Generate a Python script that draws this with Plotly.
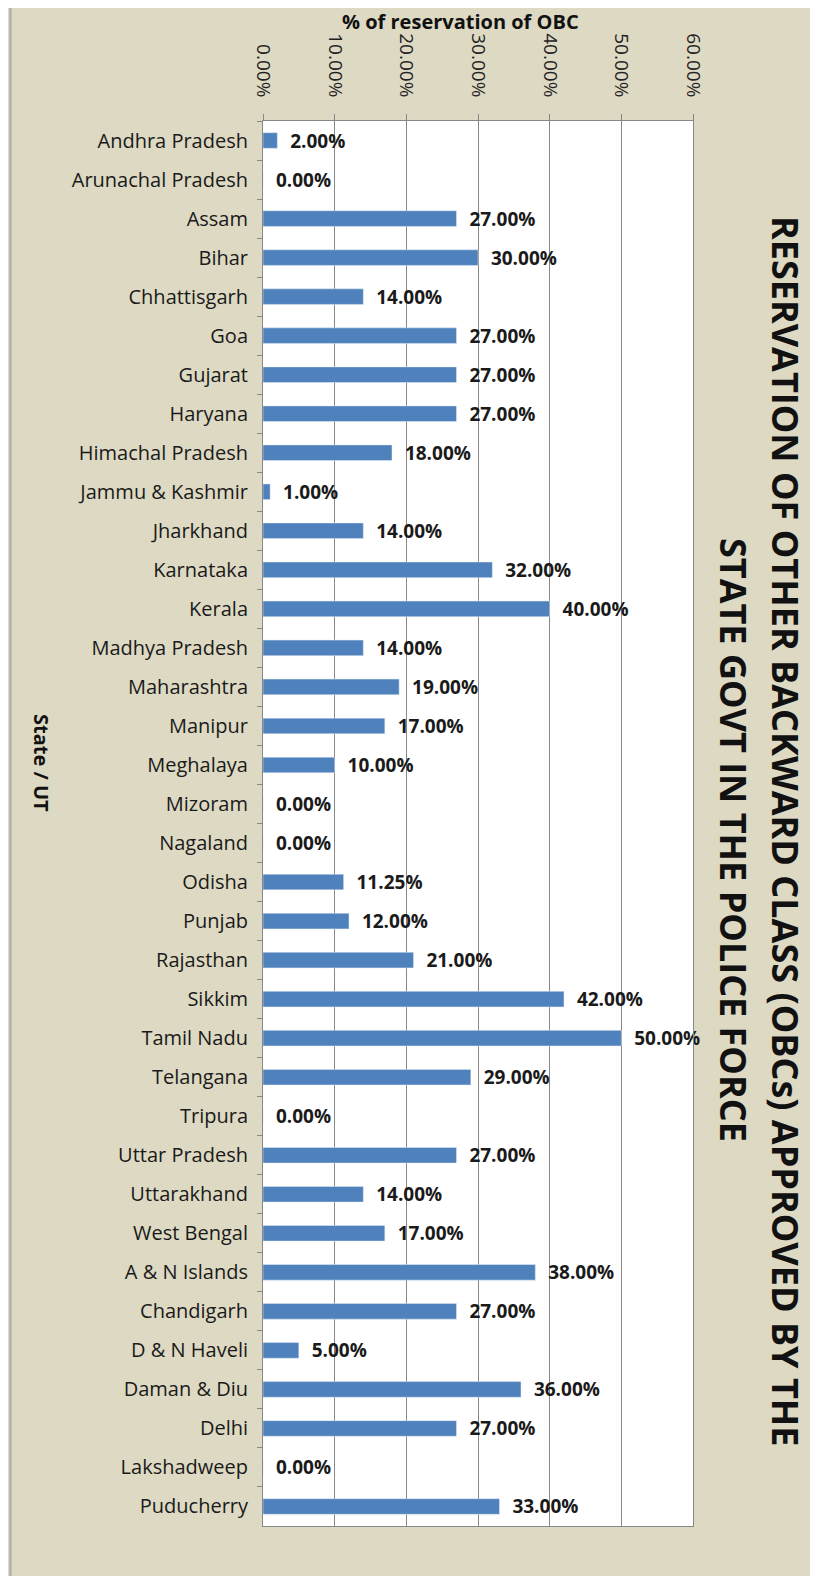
import plotly.graph_objects as go

states = ["Andhra Pradesh", "Arunachal Pradesh", "Assam", "Bihar", "Chhattisgarh", "Goa",
          "Gujarat", "Haryana", "Himachal Pradesh", "Jammu & Kashmir", "Jharkhand", "Karnataka",
          "Kerala", "Madhya Pradesh", "Maharashtra", "Manipur", "Meghalaya", "Mizoram",
          "Nagaland", "Odisha", "Punjab", "Rajasthan", "Sikkim", "Tamil Nadu", "Telangana",
          "Tripura", "Uttar Pradesh", "Uttarakhand", "West Bengal", "A & N Islands",
          "Chandigarh", "D & N Haveli", "Daman & Diu", "Delhi", "Lakshadweep", "Puducherry"]
obc_pct = [2.00, 0.00, 27.00, 30.00, 14.00, 27.00,
           27.00, 27.00, 18.00, 1.00, 14.00, 32.00,
           40.00, 14.00, 19.00, 17.00, 10.00, 0.00,
           0.00, 11.25, 12.00, 21.00, 42.00, 50.00, 29.00,
           0.00, 27.00, 14.00, 17.00, 38.00,
           27.00, 5.00, 36.00, 27.00, 0.00, 33.00]
x_ticks = [0, 10, 20, 30, 40, 50, 60]
x_tick_labels = ["0.00%", "10.00%", "20.00%", "30.00%", "40.00%", "50.00%", "60.00%"]

# the page adds an 8px body margin, so the figure is sized/positioned with that offset
W, H = 810, 1568
ML, MR, MT = 255, 125, 113
MB = H - 1518
PW, PH = W - ML - MR, H - MT - MB
BEIGE = "#DDD9C3"
FONT = "Open Sans"


def px_x(px):
    return (px - ML) / PW


def px_y(py):
    return (H - MB - py) / PH


fig = go.Figure(go.Bar(
    y=states, x=obc_pct, orientation="h",
    marker_color="#4F81BD", width=0.4,
    texttemplate="\u00a0\u00a0<b>%{x:.2f}%</b>", textposition="outside",
    constraintext="none",
    textfont=dict(family=FONT, size=19, color="#1a1a1a"),
    cliponaxis=False,
))

fig.update_layout(
    width=W, height=H,
    margin=dict(l=ML, r=MR, t=MT, b=MB),
    paper_bgcolor=BEIGE, plot_bgcolor="white",
    font=dict(family=FONT, color="#111"),
    showlegend=False,
    xaxis=dict(side="top", range=[0, 60], tickvals=x_ticks, ticktext=x_tick_labels,
               tickangle=90, tickfont=dict(size=19, color="#222"),
               ticks="outside", ticklen=6, tickcolor="#888", ticklabelstandoff=10,
               showgrid=True, gridcolor="#888", gridwidth=1,
               showline=True, linecolor="#888", mirror=True, zeroline=False),
    yaxis=dict(autorange="reversed", tickfont=dict(size=20, color="#1a1a1a", weight=500),
               ticks="outside", ticklen=5, tickcolor="#888", tickson="boundaries",
               ticklabelstandoff=10,
               showline=True, linecolor="#888", mirror=True, showgrid=False),
    shapes=[
        dict(type="line", xref="paper", yref="paper", x0=px_x(2.5), x1=px_x(2.5),
             y0=px_y(H), y1=px_y(0), line=dict(color="#AAA", width=2)),
    ],
    annotations=[
        dict(text="<b>% of reservation of OBC</b>", xref="paper", yref="paper",
             x=px_x(452), y=px_y(14), showarrow=False,
             font=dict(size=20, color="#111", family=FONT), xanchor="center", yanchor="middle"),
        dict(text="<b>State / UT</b>", xref="paper", yref="paper",
             x=px_x(33), y=px_y(755), showarrow=False, textangle=90,
             xanchor="center", yanchor="middle",
             font=dict(size=20, color="#111", family=FONT)),
        dict(text="<b>RESERVATION OF OTHER BACKWARD CLASS (OBCs) APPROVED BY THE</b>",
             xref="paper", yref="paper", x=px_x(777), y=px_y(823), showarrow=False,
             xanchor="center", yanchor="middle",
             textangle=90, font=dict(size=36, color="#111", family=FONT)),
        dict(text="<b>STATE GOVT IN THE POLICE FORCE</b>",
             xref="paper", yref="paper", x=px_x(726), y=px_y(832), showarrow=False,
             xanchor="center", yanchor="middle",
             textangle=90, font=dict(size=36, color="#111", family=FONT)),
    ],
)

fig.write_html("out.html")
